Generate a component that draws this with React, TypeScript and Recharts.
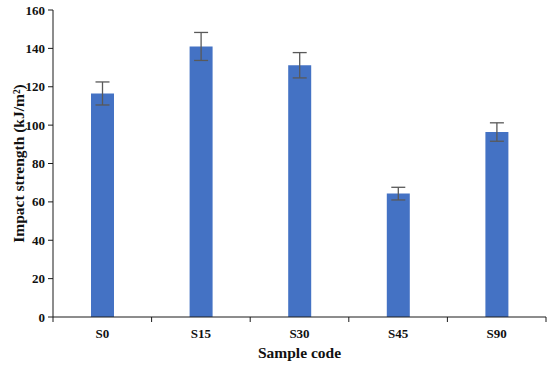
import { BarChart, Bar, XAxis, YAxis, ErrorBar } from "recharts";

const SAMPLES = ["S0", "S15", "S30", "S45", "S90"];
const STRENGTH = [116.5, 141, 131.2, 64.3, 96.4];
const STD_DEV = [6, 7.3, 6.6, 3.3, 4.8];
const Y_TICKS = [0, 20, 40, 60, 80, 100, 120, 140, 160];

const data = SAMPLES.map((name, i) => ({ name, value: STRENGTH[i], err: STD_DEV[i] }));

const FONT = "'Liberation Serif', 'Times New Roman', serif";
const AXIS = "#1a1a1a";

// category axis tick: label at band centre, tick marks at band edges (Excel style)
function SampleTick(props: any) {
  const { x, y, payload, index, width, visibleTicksCount } = props;
  const band = width / visibleTicksCount;
  return (
    <g>
      <line x1={x - band / 2} x2={x - band / 2} y1={y} y2={y + 5} stroke={AXIS} />
      {index === visibleTicksCount - 1 && (
        <line x1={x + band / 2} x2={x + band / 2} y1={y} y2={y + 5} stroke={AXIS} />
      )}
      <text x={x} y={y + 21} textAnchor="middle" fontFamily={FONT} fontWeight="bold" fontSize={13} fill="#111">
        {payload.value}
      </text>
    </g>
  );
}

export default function App() {
  return (
    <div style={{ position: "absolute", left: 0, top: 0, background: "#fff" }}>
      <BarChart width={550} height={366} data={data} margin={{ top: 10, right: 4, bottom: 0, left: 0 }}>
        <XAxis
          dataKey="name"
          height={49}
          stroke={AXIS}
          tickLine={false}
          tickSize={0}
          tickMargin={0}
          tick={<SampleTick />}
          label={{
            value: "Sample code",
            position: "insideBottom",
            offset: 8,
            style: { fontFamily: FONT, fontWeight: "bold", fontSize: 15.5, fill: "#111" },
          }}
        />
        <YAxis
          width={53}
          domain={[0, 160]}
          ticks={Y_TICKS}
          interval={0}
          stroke={AXIS}
          tickSize={5}
          tickMargin={3}
          tick={{ fontFamily: FONT, fontWeight: "bold", fontSize: 13, fill: "#111" }}
          label={{
            value: "Impact strength (kJ/m²)",
            angle: -90,
            position: "center",
            dx: -8,
            style: { fontFamily: FONT, fontWeight: "bold", fontSize: 15.5, fill: "#111", textAnchor: "middle" },
          }}
        />
        <Bar dataKey="value" fill="#4472C4" barSize={23} isAnimationActive={false}>
          <ErrorBar dataKey="err" width={7} stroke="#595959" strokeWidth={1.3} direction="y" />
        </Bar>
      </BarChart>
    </div>
  );
}
